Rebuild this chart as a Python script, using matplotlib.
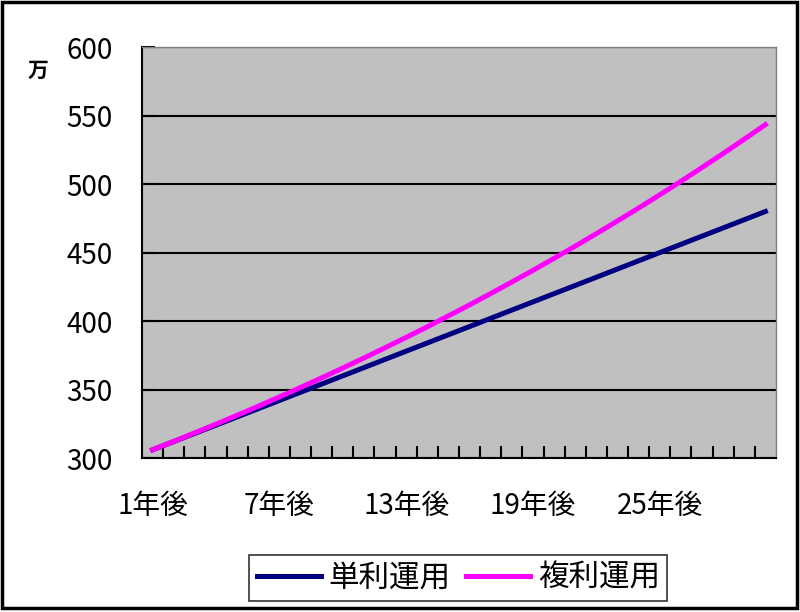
import matplotlib
matplotlib.use('Agg')
import matplotlib.pyplot as plt
from matplotlib.patches import Rectangle

plt.rcParams['font.family'] = ['Noto Sans CJK JP', 'DejaVu Sans']

years = [f"{i}年後" for i in range(1, 31)]
simple = [306, 312, 318, 324, 330, 336, 342, 348, 354, 360,
          366, 372, 378, 384, 390, 396, 402, 408, 414, 420,
          426, 432, 438, 444, 450, 456, 462, 468, 474, 480]
compound = [306.0, 312.1, 318.4, 324.7, 331.2, 337.8, 344.6, 351.5, 358.5, 365.7,
            373.0, 380.5, 388.1, 395.8, 403.8, 411.8, 420.1, 428.5, 437.0, 445.8,
            454.7, 463.8, 473.1, 482.5, 492.2, 502.0, 512.1, 522.3, 532.8, 543.4]
yticks = [300, 350, 400, 450, 500, 550, 600]

fig = plt.figure(figsize=(8, 6.12), dpi=100)
ax = fig.add_axes([0.1775, 0.2516, 0.7925, 0.6714])
ax.set_facecolor('#c0c0c0')

x = list(range(len(years)))
ax.plot(x, simple, color='#000080', linewidth=3.6, label='単利運用')
ax.plot(x, compound, color='#ff00ff', linewidth=3.6, label='複利運用')

ax.set_xlim(-0.5, len(years) - 0.5)
ax.set_ylim(300, 600)
ax.set_yticks(yticks)
ax.set_yticklabels([str(v) for v in yticks], fontsize=20)
ax.yaxis.grid(True, color='black', linewidth=1.5)
ax.set_axisbelow(True)

# category boundaries get the small inward ticks, labels every 6 years
ax.set_xticks([i + 0.5 for i in range(len(years) - 1)])
ax.set_xticklabels([])
ax.set_xticks(x[::6], minor=True)
ax.set_xticklabels(years[::6], minor=True, fontsize=20)
ax.tick_params(axis='x', which='major', direction='in', length=9, width=1.5)
ax.tick_params(axis='x', which='minor', length=0, pad=24)
ax.tick_params(axis='y', direction='in', length=9, width=1.5, pad=21)

for s in ['top', 'right']:
    ax.spines[s].set_color('#808080')
    ax.spines[s].set_linewidth(1)
for s in ['left', 'bottom']:
    ax.spines[s].set_color('black')
    ax.spines[s].set_linewidth(1.5)

fig.text(0.048, 0.885, '万', fontsize=15, fontweight='bold', ha='center', va='center')

leg = fig.legend(loc='center', bbox_to_anchor=(0.573, 0.056), ncol=2, fontsize=22,
                 frameon=True, fancybox=False, edgecolor='black', handlelength=2.1,
                 columnspacing=0.5, handletextpad=0.25, borderpad=0.25)
leg.get_frame().set_linewidth(1.2)

fig.patches.append(Rectangle((0.002, 0.006), 0.994, 0.99, transform=fig.transFigure,
                             fill=False, edgecolor='black', linewidth=2.5))

fig.savefig('out.png', dpi=100)
